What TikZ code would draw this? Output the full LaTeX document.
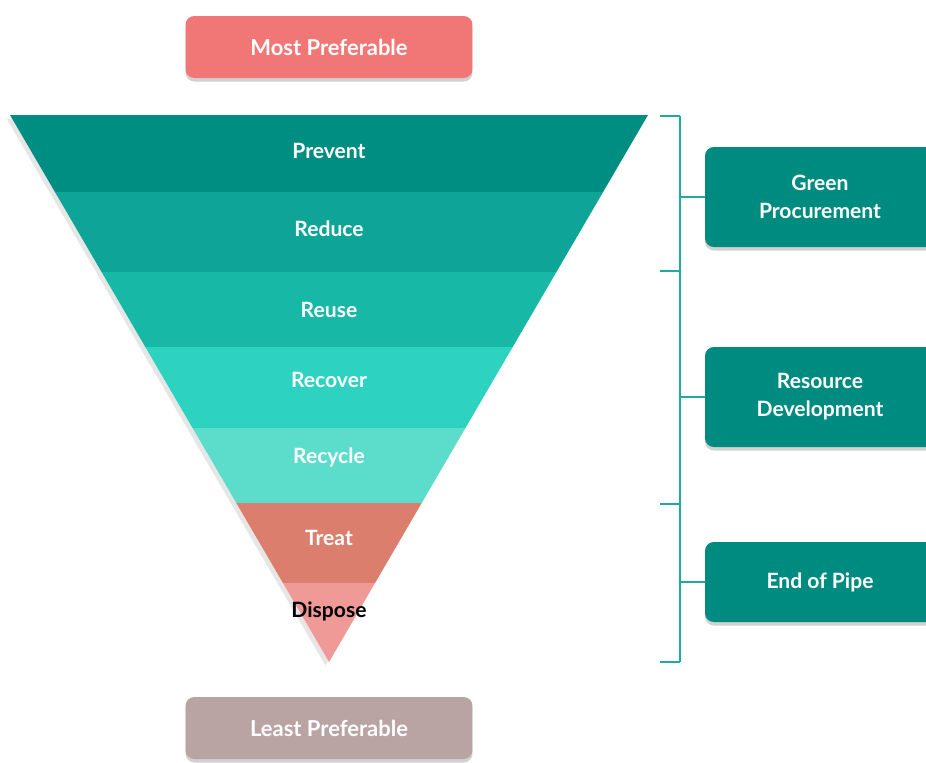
\documentclass[tikz,border=0pt]{standalone}
\usepackage{fontspec}
\setmainfont{Lato}
\usetikzlibrary{shadows}
\usetikzlibrary{math}

\definecolor{bandA}{HTML}{008E82}
\definecolor{bandB}{HTML}{0EA598}
\definecolor{bandC}{HTML}{17B8A6}
\definecolor{bandD}{HTML}{2DD3C0}
\definecolor{bandE}{HTML}{5CDDCB}
\definecolor{bandF}{HTML}{DC7E6D}
\definecolor{bandG}{HTML}{EF9A96}
\definecolor{mostcol}{HTML}{F07775}
\definecolor{leastcol}{HTML}{BAA3A3}
\definecolor{groupcol}{HTML}{008B80}
\definecolor{bracketcol}{HTML}{20A99C}

\tikzset{
  softshadow/.style={drop shadow={shadow xshift=0pt, shadow yshift=-2pt, opacity=0.18, fill=black}},
  prefbox/.style={rounded corners=5pt, minimum width=5.74cm, minimum height=1.24cm,
    text=white, font=\bfseries\fontsize{12.5}{15}\selectfont, softshadow},
  groupbox/.style={rounded corners=5pt, fill=groupcol, minimum width=4.6cm,
    text=white, align=center, font=\bfseries\fontsize{12}{16}\selectfont, softshadow},
  bandlabel/.style={text=white, font=\bfseries\fontsize{12}{15}\selectfont},
  bracket/.style={draw=bracketcol, line width=1.1pt}
}

\begin{document}
\begin{tikzpicture}[x=0.02cm, y=-0.02cm]

\useasboundingbox (0,0) rectangle (926,762);

\def\Xmid{329}
\def\Hw{319}
\def\Ytop{115}
\def\Yapex{662}

% funnel outline with shadow
\fill[white, drop shadow={shadow xshift=-2pt, shadow yshift=-2pt, opacity=0.2}]
  (\Xmid-\Hw, \Ytop) -- (\Xmid+\Hw, \Ytop) -- (\Xmid, \Yapex) -- cycle;

% bands
\foreach \Ya/\Yb/\Col in {115/192/bandA, 192/272/bandB, 272/347/bandC, 347/428/bandD,
                          428/503/bandE, 503/583/bandF, 583/662/bandG}{
  \pgfmathsetmacro\Wa{\Hw*((\Yapex-\Ya)/(\Yapex-\Ytop))}
  \pgfmathsetmacro\Wb{\Hw*((\Yapex-\Yb)/(\Yapex-\Ytop))}
  \fill[\Col] (\Xmid-\Wa, \Ya) -- (\Xmid+\Wa, \Ya)
           -- (\Xmid+\Wb, \Yb) -- (\Xmid-\Wb, \Yb) -- cycle;
}

\node[bandlabel] (prevent) at (\Xmid, 151) {Prevent};
\node[bandlabel] (reduce) at (\Xmid, 229) {Reduce};
\node[bandlabel] (reuse) at (\Xmid, 310) {Reuse};
\node[bandlabel] (recover) at (\Xmid, 380) {Recover};
\node[bandlabel] (recycle) at (\Xmid, 457) {Recycle};
\node[bandlabel] (treat) at (\Xmid, 538) {Treat};
\node[bandlabel, text=black] (dispose) at (\Xmid, 611) {Dispose};

% top and bottom boxes
\node[prefbox, fill=mostcol] (most) at (\Xmid, 47) {Most Preferable};
\node[prefbox, fill=leastcol] (least) at (\Xmid, 728) {Least Preferable};

% group boxes
\node[groupbox, minimum height=2cm] (green) at (820, 197) {Green\\Procurement};
\node[groupbox, minimum height=2cm] (resource) at (820, 397) {Resource\\Development};
\node[groupbox, minimum height=1.6cm] (endpipe) at (820, 582) {End of Pipe};

% bracket
\coordinate (bt) at (680, 116);
\coordinate (bb) at (680, 662);
\draw[bracket] (bt) -- (bb);
\foreach \Yt in {116, 271, 504, 662}{
  \draw[bracket] (660, \Yt) -- (680, \Yt);
}
\draw[bracket] (green.west) -- (green.west -| bt);
\draw[bracket] (resource.west) -- (resource.west -| bt);
\draw[bracket] (endpipe.west) -- (endpipe.west -| bt);

\end{tikzpicture}
\end{document}
